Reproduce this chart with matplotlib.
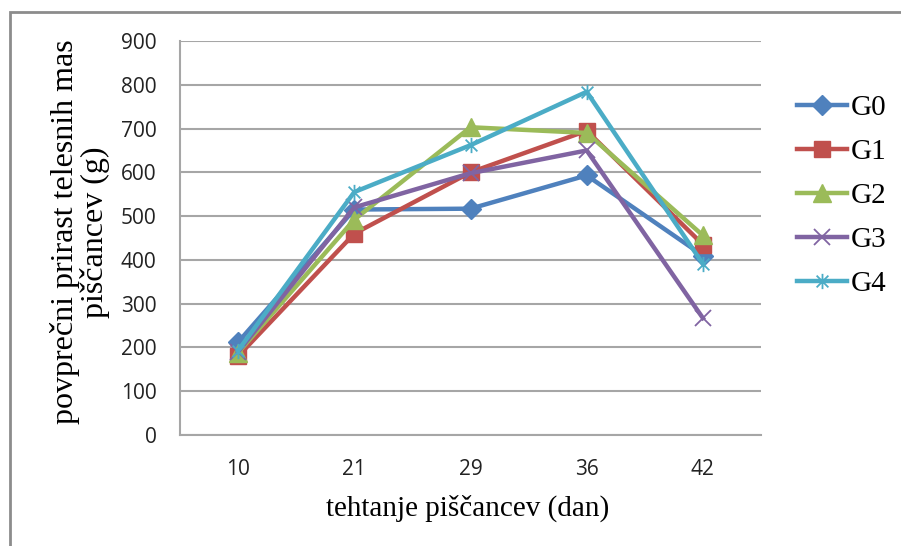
import numpy as np
import matplotlib
matplotlib.use("Agg")
from matplotlib import pyplot as plt
from matplotlib.path import Path
from matplotlib.patches import Rectangle

# weighing day and mean body weight gain per group
days = ["10", "21", "29", "36", "42"]
groups = ["G0", "G1", "G2", "G3", "G4"]
g0 = [212, 515, 517, 593, 410]
g1 = [180, 460, 600, 695, 435]
g2 = [188, 492, 703, 690, 456]
g3 = [190, 520, 598, 650, 267]
g4 = [193, 555, 662, 784, 391]
series = [g0, g1, g2, g3, g4]

colors = ["#4F81BD", "#C0504D", "#9BBB59", "#8064A2", "#4BACC6"]

# excel-like star: an x with a vertical bar through it
star = Path([(-1, -1), (1, 1), (-1, 1), (1, -1), (0, -1.3), (0, 1.3)],
            [Path.MOVETO, Path.LINETO, Path.MOVETO, Path.LINETO, Path.MOVETO, Path.LINETO])
markers = [
    dict(marker="D", markersize=10),
    dict(marker="s", markersize=11.5),
    dict(marker="^", markersize=12.5),
    dict(marker="x", markersize=11, markeredgewidth=1.3),
    dict(marker=star, markersize=11, markeredgewidth=1.3),
]

serif = "Liberation Serif"
tickfont = "Open Sans"

fig = plt.figure(figsize=(9.01, 5.46), dpi=100)
fig.patch.set_facecolor("white")
fig.patches.append(Rectangle((10 / 901, -0.1), 1.2, 1 - 12 / 546 + 0.1,
                             transform=fig.transFigure, fill=False,
                             edgecolor="#8c8c8c", linewidth=2, zorder=0))

ax = fig.add_axes([180 / 901, 111 / 546, 581 / 901, 394 / 546])
x = np.arange(len(days))
for vals, name, c, m in zip(series, groups, colors, markers):
    ax.plot(x, vals, color=c, linewidth=3.2, label=name,
            markerfacecolor=c, markeredgecolor=c, **m)

ax.set_xlim(-0.5, len(days) - 0.5)
ax.set_ylim(0, 900)
ax.set_yticks(np.arange(0, 901, 100))
ax.set_xticks(x)
ax.set_xticklabels(days)
ax.yaxis.grid(True, color="#a6a6a6", linewidth=1.5)
ax.set_axisbelow(True)
for s in ["top", "right"]:
    ax.spines[s].set_visible(False)
for s in ["left", "bottom"]:
    ax.spines[s].set_color("#a6a6a6")
    ax.spines[s].set_linewidth(1.5)
ax.tick_params(length=0, labelsize=15, colors="#222222", pad=17)
for lab in ax.get_xticklabels() + ax.get_yticklabels():
    lab.set_family(tickfont)

fig.text(468 / 901, 1 - 508 / 546, "tehtanje piščancev (dan)",
         family=serif, fontsize=21, ha="center", va="center")
fig.text(80 / 901, 1 - 232 / 546, "povprečni prirast telesnih mas\npiščancev (g)",
         family=serif, fontsize=23, ha="center", va="center", rotation=90,
         multialignment="center", linespacing=1.0)

leg = fig.legend(loc="upper left", bbox_to_anchor=(797 / 901, 1 - 95 / 546),
                 frameon=False, prop=dict(family=serif, size=21),
                 handlelength=1.7, handletextpad=0.15, labelspacing=0.6,
                 borderaxespad=0, borderpad=0)

fig.savefig("out.png", dpi=100)
